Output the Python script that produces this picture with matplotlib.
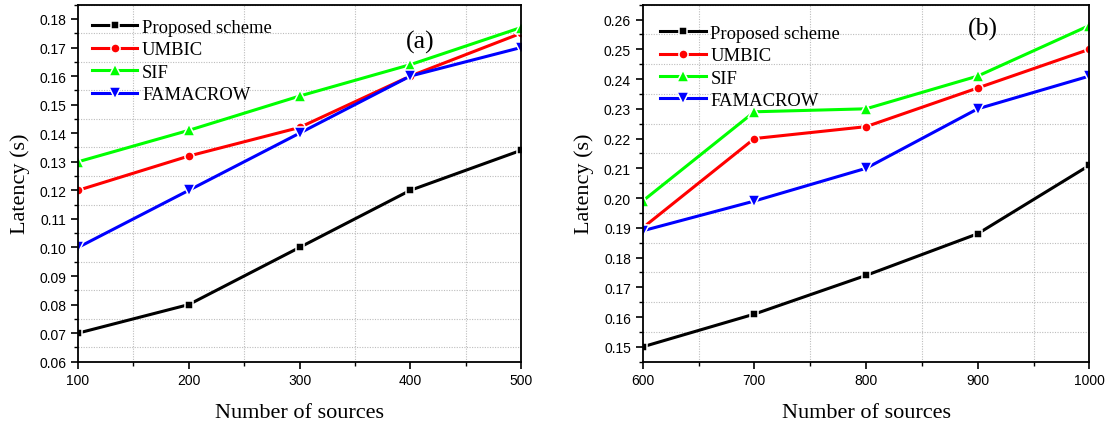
import matplotlib
matplotlib.use("Agg")
import matplotlib.pyplot as plt
from matplotlib.ticker import MultipleLocator, FormatStrFormatter

labels = ["Proposed scheme", "UMBIC", "SIF", "FAMACROW"]
colors = ["#000000", "#FF0000", "#00FF00", "#0000FF"]
markers = ["s", "o", "^", "v"]
msizes = [5.8, 6.6, 8.0, 8.0]

x_a = [100, 200, 300, 400, 500]
proposed_a = [0.070, 0.080, 0.100, 0.120, 0.134]
umbic_a = [0.120, 0.132, 0.142, 0.160, 0.175]
sif_a = [0.130, 0.141, 0.153, 0.164, 0.177]
famacrow_a = [0.100, 0.120, 0.140, 0.160, 0.170]

x_b = [600, 700, 800, 900, 1000]
proposed_b = [0.150, 0.161, 0.174, 0.188, 0.211]
umbic_b = [0.190, 0.220, 0.224, 0.237, 0.250]
sif_b = [0.199, 0.229, 0.230, 0.241, 0.258]
famacrow_b = [0.189, 0.199, 0.210, 0.230, 0.241]

serif = ["Liberation Serif", "DejaVu Serif"]
sans = ["Liberation Sans", "DejaVu Sans"]

fig = plt.figure(figsize=(11.1, 4.27), dpi=100)
ax1 = fig.add_axes([0.0703, 0.1506, 0.3991, 0.8361])
ax2 = fig.add_axes([0.5790, 0.1506, 0.4024, 0.8361])


def style(ax, xs, series, xlim, ylim, ymajor, tag, tagpos, legpos):
    for ys, lab, c, m, ms in zip(series, labels, colors, markers, msizes):
        ax.plot(xs, ys, color=c, lw=2.2, label=lab, marker=m, ms=ms,
                markerfacecolor=c, markeredgecolor="white", mew=1.1)
    ax.set_xlim(*xlim)
    ax.set_ylim(*ylim)
    ax.xaxis.set_major_locator(MultipleLocator(100))
    ax.xaxis.set_minor_locator(MultipleLocator(50))
    ax.yaxis.set_major_locator(MultipleLocator(ymajor))
    ax.yaxis.set_minor_locator(MultipleLocator(ymajor / 2))
    ax.yaxis.set_major_formatter(FormatStrFormatter("%.2f"))
    ax.grid(False)
    ax.grid(which="minor", color="#bdbdbd", linestyle=(0, (1, 1.3)), lw=0.8)
    ax.tick_params(which="major", direction="out", length=5, width=1.2,
                   labelsize=10, top=False, right=False)
    ax.tick_params(which="minor", direction="out", length=3, width=1.0,
                   top=False, right=False)
    for lbl in ax.get_xticklabels() + ax.get_yticklabels():
        lbl.set_family(sans)
    for sp in ax.spines.values():
        sp.set_linewidth(1.3)
    ax.set_xlabel("Number of sources", family=serif, fontsize=16)
    ax.set_ylabel("Latency (s)", family=serif, fontsize=16)
    ax.xaxis.set_label_coords(0.5, -0.117)
    ax.yaxis.set_label_coords(-0.108, 0.5)
    ax.text(tagpos[0], tagpos[1], tag, transform=ax.transAxes, family=serif,
            fontsize=18.5, ha="center", va="center")
    leg = ax.legend(loc="upper left", bbox_to_anchor=legpos, frameon=False,
                    borderaxespad=0, borderpad=0, handlelength=2.45,
                    handletextpad=0.25, labelspacing=0.29,
                    prop={"family": serif, "size": 13.4})
    return leg


style(ax1, x_a, [proposed_a, umbic_a, sif_a, famacrow_a], (100, 500),
      (0.06, 0.185), 0.01, "(a)", (0.772, 0.897), (0.031, 0.960))
style(ax2, x_b, [proposed_b, umbic_b, sif_b, famacrow_b], (600, 1000),
      (0.145, 0.265), 0.01, "(b)", (0.762, 0.933), (0.039, 0.944))

fig.savefig("out.png", dpi=100)
